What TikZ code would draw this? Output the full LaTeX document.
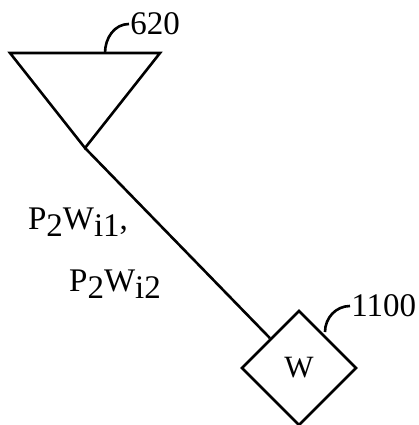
\documentclass[tikz,border=0pt]{standalone}
\usepackage{fontspec}
\setmainfont{Liberation Serif}
\usetikzlibrary{shapes.geometric}
\tikzset{
  lbl/.style={font=\fontsize{33}{36}\selectfont, inner sep=0pt},
  wbox/.style={diamond, draw, line width=2.6pt, minimum width=115pt, minimum height=115pt, inner sep=0pt, font=\fontsize{31}{34}\selectfont},
}
\newcommand{\lowsub}[1]{\raisebox{-7pt}{#1}}

\begin{document}
\begin{tikzpicture}[x=1pt,y=-1pt,line width=2.6pt]
  \useasboundingbox (0,0) rectangle (418,425);
  \coordinate (tl) at (10,53);
  \coordinate (tr) at (160,53);
  \coordinate (apex) at (85,148);
  \draw[line join=miter] (tl) -- (tr) -- (apex) -- cycle;
  \node[wbox] (W) at (299,368) {W};
  \draw (apex) -- (W);
  % reference numerals
  \node[lbl, anchor=west] (n620) at (129,24) {620};
  \draw (105,53) to[out=90,in=180] (n620.west);
  \node[lbl, anchor=west] (n1100) at (350,306) {1100};
  \draw (325,332) to[out=90,in=180] (n1100.west);
  % channel labels
  \node[lbl] (p1) at (78,222) {P\lowsub{2}W\lowsub{i1},};
  \node[lbl] (p2) at (115,284) {P\lowsub{2}W\lowsub{i2}};
\end{tikzpicture}
\end{document}
